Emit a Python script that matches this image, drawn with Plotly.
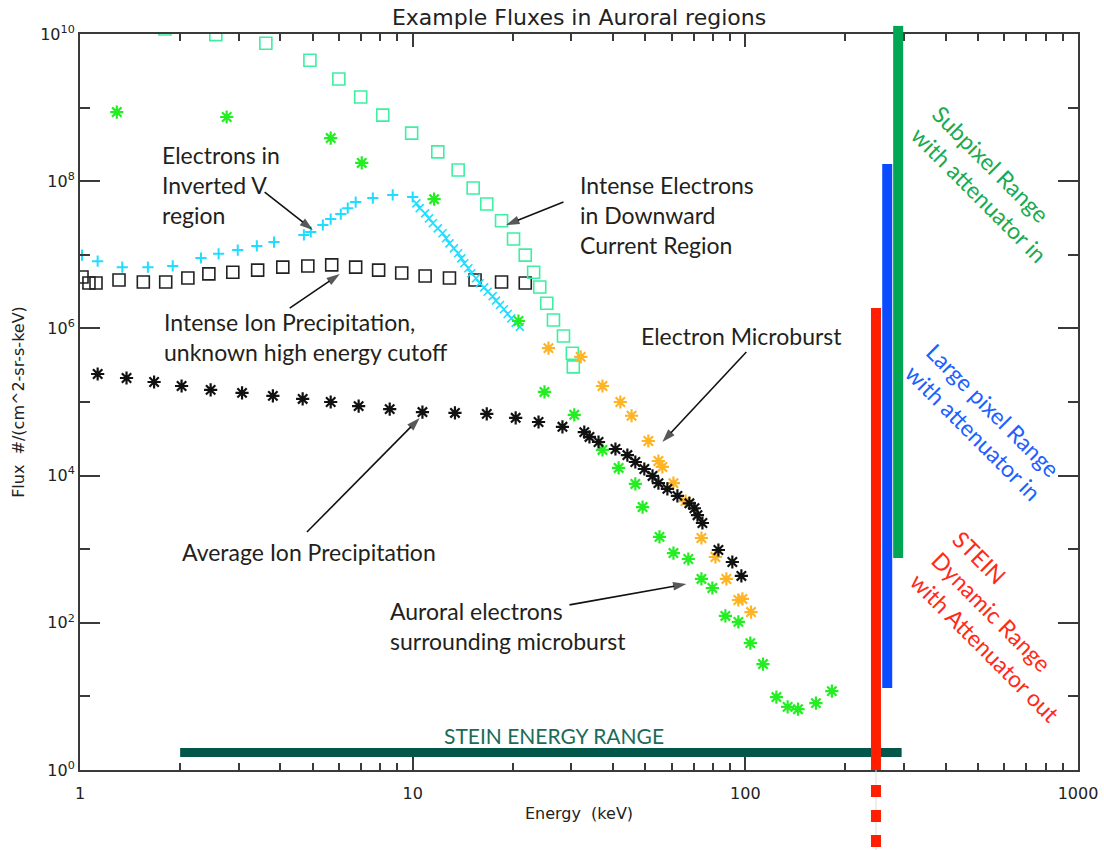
import plotly.graph_objects as go

# ---------------- data ----------------
# Intense electrons in downward current region (teal open squares)
teal_E = [1.80, 2.56, 3.62, 4.91, 6.0, 6.98, 8.13, 9.93, 11.9, 13.7, 15.2, 16.7, 18.5, 20.1,
          21.8, 23.1, 24.1, 25.3, 26.5, 28.4, 30.2, 30.4]
teal_F = [1.17e10, 9.8e9, 7.5e9, 4.4e9, 2.45e9, 1.39e9, 7.9e8, 4.5e8, 2.5e8, 1.42e8, 8.1e7,
          4.9e7, 2.9e7, 1.64e7, 9.9e6, 5.8e6, 3.65e6, 2.2e6, 1.3e6, 7.9e5, 4.6e5, 3.0e5]

# Auroral electrons surrounding microburst (green asterisks)
green_E = [1.29, 2.76, 5.67, 7.03, 11.6, 20.8, 24.9, 30.6, 37.2, 41.6, 46.7, 49.1, 55.2, 60.8,
           67.4, 73.8, 79.6, 87.1, 95.3, 103.5, 113, 124, 134, 144, 163, 182]
green_F = [8.7e8, 7.45e8, 3.86e8, 1.77e8, 5.7e7, 1.26e6, 1.37e5, 6.7e4, 2.23e4, 1.27e4, 7.7e3,
           3.74e3, 1.47e3, 887, 736, 394, 297, 124, 103, 53, 27.5, 9.8, 7.2, 6.7, 8.1, 11.8]

# Electron microburst (orange asterisks)
orange_E = [25.6, 32.0, 37.2, 42.1, 45.5, 51.1, 54.8, 56.3, 60.8, 66.1, 73.8, 81.3, 87.7, 95.3,
            98.0, 104]
orange_F = [5.4e5, 4.1e5, 1.65e5, 1.0e5, 6.5e4, 2.95e4, 1.58e4, 1.31e4, 7.9e3, 4.5e3, 1.42e3,
            783, 394, 204, 211, 140]

# Average ion precipitation + microburst (black asterisks)
black_ast_E = [1.13, 1.38, 1.67, 2.02, 2.47, 3.07, 3.80, 4.67, 5.67, 6.88, 8.53, 10.7, 13.4, 16.7,
               20.4, 23.9, 28.2, 32.8, 34.0, 36.2, 40.7, 44.2, 46.7, 49.7, 52.6, 54.8, 58.3, 62.5,
               67.9, 70.3, 71.8, 74.3, 83.0, 91.4, 97.3]
black_ast_F = [2.4e5, 2.12e5, 1.87e5, 1.65e5, 1.46e5, 1.33e5, 1.21e5, 1.10e5, 1.0e5, 8.8e4, 8.0e4,
               7.3e4, 7.1e4, 6.9e4, 6.1e4, 5.35e4, 4.6e4, 3.9e4, 3.35e4, 2.86e4, 2.3e4, 1.9e4,
               1.53e4, 1.23e4, 9.9e3, 7.9e3, 6.6e3, 5.3e3, 4.2e3, 3.6e3, 2.9e3, 2.27e3, 975, 670, 433]

# Intense ion precipitation (black open squares)
black_sq_E = [1.014, 1.064, 1.117, 1.31, 1.55, 1.81, 2.11, 2.44, 2.88, 3.42, 4.07, 4.84, 5.71,
              6.74, 7.90, 9.27, 10.9, 12.9, 15.4, 18.5, 21.8]
black_sq_F = [5.0e6, 4.14e6, 4.14e6, 4.55e6, 4.27e6, 4.27e6, 4.84e6, 5.5e6, 5.8e6, 6.2e6, 6.8e6,
              7.05e6, 7.3e6, 6.8e6, 6.2e6, 5.66e6, 5.15e6, 4.84e6, 4.55e6, 4.27e6, 4.14e6]

# Electrons in inverted V region (cyan plus, then cyan x)
cyan_plus_E = [1.014, 1.13, 1.34, 1.60, 1.90, 2.31, 2.61, 2.98, 3.40, 3.83, 4.71, 4.94, 5.37, 5.67,
               6.08, 6.38, 6.74, 7.59, 8.71, 10.0]
cyan_plus_F = [9.9e6, 8.2e6, 6.8e6, 6.8e6, 7.05e6, 9.05e6, 1.03e7, 1.16e7, 1.32e7, 1.49e7, 1.86e7,
               2.04e7, 2.54e7, 3.06e7, 3.58e7, 4.3e7, 5.2e7, 5.9e7, 6.5e7, 6.1e7]
cyan_x_E = [10.26, 10.5, 10.9, 11.2, 11.5, 11.9, 12.3, 12.6, 12.9, 13.3, 13.7, 14.0, 14.3, 14.7,
            15.0, 15.5, 15.9, 16.4, 16.8, 17.4, 17.8, 18.3, 18.8, 19.3, 19.8, 20.4, 21.0]
cyan_x_F = [5.0e7, 4.3e7, 3.66e7, 3.13e7, 2.68e7, 2.29e7, 1.96e7, 1.68e7, 1.43e7, 1.22e7, 1.05e7,
            8.96e6, 7.67e6, 6.56e6, 5.61e6, 4.8e6, 4.1e6, 3.61e6, 3.15e6, 2.75e6, 2.38e6, 2.08e6,
            1.82e6, 1.57e6, 1.37e6, 1.19e6, 1.05e6]

# Instrument ranges: STEIN (red), large pixel (blue), subpixel (green)
range_names = ["STEIN", "Large pixel", "Subpixel"]
range_E = [247, 267, 288]
range_lo = [1, 13, 759]
range_hi = [1.89e6, 1.71e8, 1e10]
range_colors = ["#FF1E00", "#0A4BFF", "#00A651"]

# STEIN energy range
stein_E = [2, 295]
stein_F = 1.73

# annotation arrows: (tail E, tail F) -> (head E, head F)
arrows = [
    ((3.59, 7.13e7), (5.01, 2.17e7)),
    ((28.4, 5.21e7), (19.1, 2.54e7)),
    ((4.27, 1.89e6), (6.04, 5.48e6)),
    ((100.7, 4.78e5), (56.3, 2.86e4)),
    ((4.81, 1.71e3), (10.5, 6.07e4)),
    ((29.6, 175), (66.5, 337)),
]

y_tickvals = [1, 1e2, 1e4, 1e6, 1e8, 1e10]
y_ticktext = ["10<sup>0</sup>", "10<sup>2</sup>", "10<sup>4</sup>", "10<sup>6</sup>",
              "10<sup>8</sup>", "10<sup>10</sup>"]
y_minor = [10, 1e3, 1e5, 1e7, 1e9]
x_tickvals = [1, 10, 100, 1000]
x_ticktext = ["1", "10", "100", "1000"]
x_minor = [m * d for d in (1, 10, 100) for m in range(2, 10)]

# ---------------- figure ----------------
TEAL = "#3DEFA0"
GREEN = "#22EE22"
ORANGE = "#FFB423"
CYAN = "#20DDFF"
BLACK = "#111111"

fig = go.Figure()

def add(x, y, sym, size, color, lw, name):
    fig.add_trace(go.Scatter(
        x=x, y=y, mode="markers", name=name,
        marker=dict(symbol=sym, size=size, color=color, line=dict(color=color, width=lw))))

add(black_sq_E, black_sq_F, "square-open", 12, "#222222", 1.6, "Intense Ion Precipitation")
add(cyan_plus_E, cyan_plus_F, "cross-thin-open", 8, CYAN, 2, "Inverted V (+)")
add(cyan_x_E, cyan_x_F, "x-thin-open", 8, CYAN, 1.6, "Inverted V (x)")
add(teal_E, teal_F, "square-open", 12, TEAL, 1.6, "Downward Current")
add(green_E, green_F, "asterisk-open", 11, GREEN, 2.2, "Auroral electrons")
add(orange_E, orange_F, "asterisk-open", 11, ORANGE, 2.2, "Electron Microburst")
add(black_ast_E, black_ast_F, "asterisk-open", 11, BLACK, 2.2, "Average Ion Precipitation")

for (tE, tF), (hE, hF) in arrows:
    fig.add_trace(go.Scatter(
        x=[tE, hE], y=[tF, hF], mode="lines+markers", hoverinfo="skip",
        line=dict(color="#111111", width=1.6),
        marker=dict(symbol=["circle", "arrow"], size=[0, 14], angleref="previous",
                    color="#111111", line=dict(width=0))))

shapes = []
# STEIN energy range bar
shapes.append(dict(type="line", xref="x", yref="y", x0=stein_E[0], x1=stein_E[1],
                   y0=stein_F, y1=stein_F, line=dict(color="#03574A", width=9), layer="above"))
# vertical instrument range bars
for E, lo, hi, c in zip(range_E, range_lo, range_hi, range_colors):
    shapes.append(dict(type="line", xref="x", yref="y", x0=E, x1=E, y0=lo, y1=hi,
                       line=dict(color=c, width=10), layer="above"))
# subpixel bar continues above the frame
shapes.append(dict(type="line", xref="x", yref="paper", x0=range_E[2], x1=range_E[2],
                   y0=1.0, y1=1.011, line=dict(color=range_colors[2], width=10), layer="above"))
# red dashed continuation below the axis
shapes.append(dict(type="line", xref="x", yref="paper", x0=range_E[0], x1=range_E[0],
                   y0=0, y1=-0.11, line=dict(color="#DDDDDD", width=1), layer="above"))
shapes.append(dict(type="line", xref="x", yref="paper", x0=range_E[0], x1=range_E[0],
                   y0=-0.0204, y1=-0.11, line=dict(color=range_colors[0], width=10, dash="12px,13px"),
                   layer="above"))

TXT = dict(family="Lato", size=23, color="#231F20")
ann = []

def label(text, lx, ly):
    ann.append(dict(text=text, x=lx, y=ly, xref="x", yref="y", showarrow=False, xanchor="left",
                    yanchor="middle", align="left", font=TXT))

# (positions in log10 units, as plotly annotations on log axes expect)
label("Electrons in<br>Inverted V<br>region", 0.240, 7.948)
label("Intense Electrons<br>in Downward<br>Current Region", 1.498, 7.541)
label("Intense Ion Precipitation,<br>unknown high energy cutoff", 0.246, 5.883)
label("Electron Microburst", 1.679, 5.897)
label("Average Ion Precipitation", 0.300, 2.962)
label("Auroral electrons<br>surrounding microburst", 0.925, 1.957)

ann.append(dict(text="STEIN ENERGY RANGE", x=1.425, y=0.4755, xref="x", yref="y",
                showarrow=False, xanchor="center", yanchor="middle",
                font=dict(family="Lato", size=21, color="#1A6B5A")))

# rotated range labels (paper coords)
def rot(text, px, py, color):
    ann.append(dict(text=text, x=(px - 80) / 998, y=(770 - py) / 736, xref="paper", yref="paper",
                    showarrow=False, xanchor="center", yanchor="middle", textangle=45,
                    align="left", font=dict(family="Lato", size=23, color=color)))

rot("Subpixel Range<br>with attenuator in", 990, 184, "#1AAA50")
rot("Large pixel Range<br>with attenuator in", 984, 422, "#2060FF")
rot("STEIN<br>Dynamic Range<br>with Attenuator out", 1006, 626, "#FF2A1A")

AX = "#3A3A3A"
IDL = dict(family="DejaVu Sans", size=16, color="#222222")

fig.update_layout(
    width=1104, height=850,
    margin=dict(l=80, r=26, t=34, b=80, autoexpand=False),
    paper_bgcolor="white", plot_bgcolor="white",
    showlegend=False,
    title=dict(text="Example Fluxes in Auroral regions", x=0.5, xref="paper", y=1 - 17 / 850,
               yanchor="middle", font=dict(family="DejaVu Sans", size=22, color="#222222")),
    shapes=shapes, annotations=ann,
)
fig.update_xaxes(
    type="log", range=[0, 3], showgrid=False, zeroline=False, automargin=False,
    showline=True, linecolor=AX, linewidth=2, mirror="ticks",
    ticks="inside", ticklen=13, tickwidth=1.5, tickcolor=AX,
    tickmode="array", tickvals=x_tickvals, ticktext=x_ticktext, tickfont=IDL,
    ticklabelstandoff=8,
    minor=dict(tickmode="array", tickvals=x_minor, ticks="inside", ticklen=7, tickwidth=1.5,
               tickcolor=AX, showgrid=False),
    title=dict(text="Energy  (keV)", font=IDL, standoff=6),
)
fig.update_yaxes(
    type="log", range=[0, 10], showgrid=False, zeroline=False, automargin=False,
    showline=True, linecolor=AX, linewidth=2, mirror="ticks",
    ticks="inside", ticklen=20, tickwidth=1.5, tickcolor=AX,
    tickmode="array", tickvals=y_tickvals, ticktext=y_ticktext, tickfont=IDL,
    minor=dict(tickmode="array", tickvals=y_minor, ticks="inside", ticklen=10, tickwidth=1.5,
               tickcolor=AX, showgrid=False),
    title=dict(text="Flux  #/(cm^2-sr-s-keV)", font=IDL, standoff=12),
)

fig.write_html("out.html")
